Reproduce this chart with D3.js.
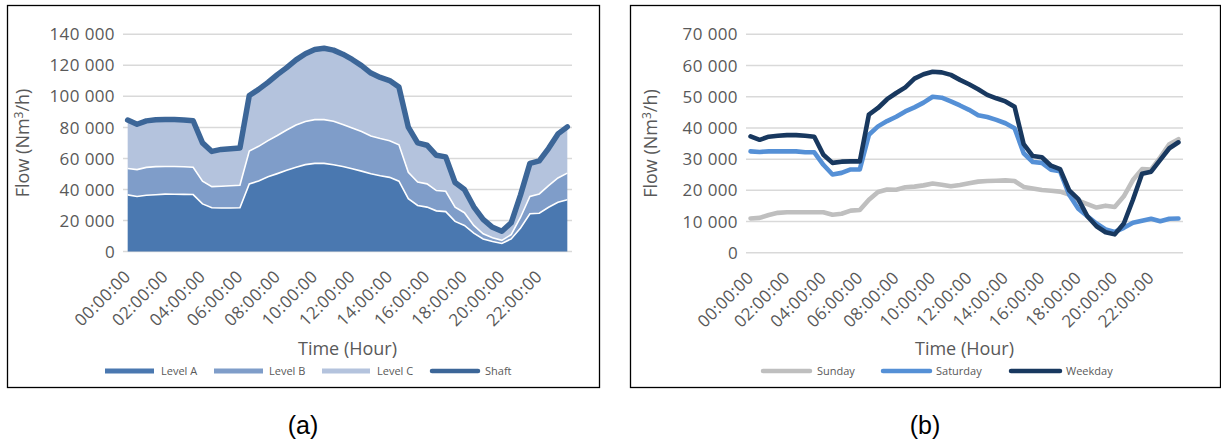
<!DOCTYPE html>
<html>
<head>
<meta charset="utf-8">
<script src="https://cdn.jsdelivr.net/npm/d3@7"></script>
<style>
  html, body { margin: 0; padding: 0; background: #ffffff; }
  svg { display: block; }
  text { font-family: "Open Sans", "Noto Sans", sans-serif; fill: #595959; }
</style>
</head>
<body>
<svg id="fig" width="1221" height="444"></svg>
<script>
// Half-hourly time slots of one day
const categories = [
  "00:00","00:30","01:00","01:30","02:00","02:30","03:00","03:30",
  "04:00","04:30","05:00","05:30","06:00","06:30","07:00","07:30",
  "08:00","08:30","09:00","09:30","10:00","10:30","11:00","11:30",
  "12:00","12:30","13:00","13:30","14:00","14:30","15:00","15:30",
  "16:00","16:30","17:00","17:30","18:00","18:30","19:00","19:30",
  "20:00","20:30","21:00","21:30","22:00","22:30","23:00","23:30"
];
const tickLabels = ["00:00:00","02:00:00","04:00:00","06:00:00","08:00:00","10:00:00",
                    "12:00:00","14:00:00","16:00:00","18:00:00","20:00:00","22:00:00"];

// (a) flow per level (Nm3/h), stacked
const levelA = [36500,35500,36300,36600,37000,36900,36800,36700,30700,28200,28000,28000,
                28200,43500,45500,48200,50200,52300,54300,56000,56800,56800,55900,54800,
                53300,51800,50100,48800,47800,45300,34000,29700,28600,26200,25700,19400,
                16800,11800,8100,6400,5200,8100,15200,24300,24700,28500,31700,33300];
const levelB = [17000,17300,17900,18100,17800,17900,17800,17600,14600,13600,14100,14400,
                14500,21300,22300,23300,24600,26000,27200,27800,28200,28200,28100,27100,
                26300,25500,24300,24000,23600,23500,17000,15100,15000,13100,13100,9200,
                8200,5000,3300,2400,2000,2800,6900,11200,12400,14000,15700,17200];
const levelC = [31200,29200,30000,30200,30300,30300,30200,30000,24700,22700,23700,23800,
                24000,35700,36700,37500,39200,40200,42000,43700,45200,46000,45800,45300,
                44200,42500,40600,39400,38800,37200,29200,25200,24900,22700,22200,15900,
                15000,12000,9300,6800,5800,7600,14400,21300,21300,24000,28400,29800];
const shaft  = [84700,82000,84200,84900,85100,85100,84800,84300,70000,64500,65800,66200,
                66700,100500,104500,109000,114000,118500,123500,127500,130200,131000,129800,127200,
                123800,119800,115000,112200,110200,106000,80200,70000,68500,62000,61000,44500,
                40000,28800,20700,15600,13000,18500,36500,56800,58400,66500,75800,80300];

// (b) total flow per day type (Nm3/h)
const sunday   = [11000,11200,12100,12800,13000,13000,13000,13000,13000,12200,12500,13500,
                  13700,17000,19500,20300,20200,21000,21200,21600,22200,21800,21300,21700,
                  22300,22800,23000,23100,23200,23000,21100,20600,20100,19900,19600,18700,
                  16700,15600,14500,15100,14700,18100,23300,26800,26700,30600,34800,36400];
const saturday = [32500,32300,32500,32500,32500,32500,32200,32200,28200,25100,25600,26700,
                  26700,37800,40500,42200,43600,45300,46600,48100,50000,49700,48500,47200,
                  45800,44100,43500,42600,41500,39900,31900,29100,28800,26600,26100,18600,
                  14100,11700,9400,7500,6700,8000,9600,10300,10900,10100,10900,11000];
const weekday  = [37300,36200,37200,37500,37700,37700,37500,37200,31400,28800,29200,29300,
                  29300,44300,46400,49200,51200,53000,55800,57200,58000,57800,57000,55400,
                  54000,52400,50600,49500,48500,46800,34800,31000,30600,27900,26800,20000,
                  17200,11700,8500,6600,5900,9400,17000,25300,26000,29800,33500,35400];

const yTicksA = [0,20000,40000,60000,80000,100000,120000,140000];
const yTicksB = [0,10000,20000,30000,40000,50000,60000,70000];

const fmt = d3.formatLocale({decimal: ",", thousands: "\u00a0", grouping: [3], currency: ["", ""]}).format(",d");

const svg = d3.select("#fig");
const GRID = "#d9d9d9";

function panel(opt) {
  const g = svg.append("g");
  // frame
  g.append("rect").attr("x", opt.box[0] + 0.5).attr("y", opt.box[1] + 0.5)
    .attr("width", opt.box[2]).attr("height", opt.box[3])
    .attr("fill", "#fff").attr("stroke", "#000").attr("stroke-width", 1.3);

  const x = d3.scalePoint().domain(categories).range(opt.xr).padding(0.5);
  const y = d3.scaleLinear().domain([0, opt.yMax]).range(opt.yr);

  // horizontal gridlines
  g.append("g").selectAll("line").data(opt.yTicks).join("line")
    .attr("x1", opt.xr[0]).attr("x2", opt.xr[1])
    .attr("y1", d => y(d)).attr("y2", d => y(d))
    .attr("stroke", GRID).attr("stroke-width", 1.5);

  // value axis labels
  g.append("g").selectAll("text").data(opt.yTicks).join("text")
    .attr("x", opt.xr[0] - 8).attr("y", d => y(d)).attr("dy", "0.36em")
    .attr("text-anchor", "end").style("font-size", "17px").style("letter-spacing", "0.4px")
    .text(d => fmt(d));

  // category labels, every two hours, slanted
  g.append("g").selectAll("text").data(tickLabels).join("text")
    .attr("transform", d => `translate(${x(d.slice(0, 5)) + 4},${opt.yr[0] + 26}) rotate(-45)`)
    .attr("text-anchor", "end").style("font-size", "17px").style("letter-spacing", "0.4px")
    .text(d => d);

  // axis titles
  const cx = (opt.xr[0] + opt.xr[1]) / 2;
  g.append("text").attr("x", cx).attr("y", 355).attr("text-anchor", "middle")
    .style("font-size", "18px").text("Time (Hour)");
  g.append("text")
    .attr("transform", `translate(${opt.box[0] + opt.yTitleDx},${(opt.yr[0] + opt.yr[1]) / 2}) rotate(-90)`)
    .attr("text-anchor", "middle").style("font-size", "18px")
    .html("Flow (Nm<tspan dy='-6' style='font-size:12px'>3</tspan><tspan dy='6'>/h)</tspan>");

  // panel caption
  g.append("text").attr("x", opt.box[0] + opt.box[2] / 2).attr("y", 434)
    .attr("text-anchor", "middle")
    .style("font-family", "'Liberation Sans', Arial, sans-serif").style("font-size", "25px")
    .style("fill", "#000").text(opt.caption);

  return {g, x, y};
}

// ---------- (a) stacked areas with shaft total ----------
const pa = panel({box: [7, 5, 592, 382], xr: [123, 572], yr: [251.5, 34.3],
                  yMax: 140000, yTicks: yTicksA, yTitleDx: 22, caption: "(a)"});

const rowsA = categories.map((c, i) => ({c, A: levelA[i], B: levelB[i], C: levelC[i]}));
const stack = d3.stack().keys(["A", "B", "C"])(rowsA);
const areaFill = {A: "#4a78b0", B: "#7f9dc9", C: "#b4c3dd"};

const area = d3.area().x(d => pa.x(d.data.c)).y0(d => pa.y(d[0])).y1(d => pa.y(d[1]));
pa.g.append("g").selectAll("path").data(stack).join("path")
  .attr("d", area).attr("fill", d => areaFill[d.key]);

// white borders along each layer top
const topLine = d3.line().x(d => pa.x(d.data.c)).y(d => pa.y(d[1]));
pa.g.append("g").selectAll("path").data(stack.slice(0, 2)).join("path")
  .attr("d", topLine).attr("fill", "none").attr("stroke", "#fff").attr("stroke-width", 1.6);

const lineA = d3.line().x((d, i) => pa.x(categories[i])).y(d => pa.y(d));
pa.g.append("path").attr("d", lineA(shaft)).attr("fill", "none")
  .attr("stroke", "#3c6698").attr("stroke-width", 5.5)
  .attr("stroke-linejoin", "round").attr("stroke-linecap", "round");

// legend (a)
const legA = [
  {name: "Level A", color: areaFill.A, kind: "rect", x0: 105, x1: 154, tx: 161},
  {name: "Level B", color: areaFill.B, kind: "rect", x0: 214, x1: 263, tx: 269},
  {name: "Level C", color: areaFill.C, kind: "rect", x0: 322, x1: 370, tx: 377},
  {name: "Shaft",   color: "#3c6698", kind: "line", x0: 430, x1: 480, tx: 485}
];
drawLegend(pa.g, legA);

// ---------- (b) day type comparison ----------
const pb = panel({box: [630, 5, 590, 382], xr: [746, 1183], yr: [252.8, 34.3],
                  yMax: 70000, yTicks: yTicksB, yTitleDx: 27, caption: "(b)"});

const seriesB = [
  {name: "Sunday",   color: "#bfbfbf", values: sunday},
  {name: "Saturday", color: "#5590d6", values: saturday},
  {name: "Weekday",  color: "#18385f", values: weekday}
];
const lineB = d3.line().x((d, i) => pb.x(categories[i])).y(d => pb.y(d));
pb.g.append("g").selectAll("path").data(seriesB).join("path")
  .attr("d", d => lineB(d.values)).attr("fill", "none")
  .attr("stroke", d => d.color).attr("stroke-width", 4.6)
  .attr("stroke-linejoin", "round").attr("stroke-linecap", "round");

drawLegend(pb.g, [
  {name: "Sunday",   color: seriesB[0].color, kind: "line", x0: 761, x1: 812, tx: 817},
  {name: "Saturday", color: seriesB[1].color, kind: "line", x0: 881, x1: 932, tx: 936},
  {name: "Weekday",  color: seriesB[2].color, kind: "line", x0: 1009, x1: 1062, tx: 1066}
]);

function drawLegend(g, items) {
  const ly = 371;
  const it = g.append("g").selectAll("g").data(items).join("g");
  it.filter(d => d.kind === "rect").append("rect")
    .attr("x", d => d.x0).attr("y", ly - 2.5).attr("width", d => d.x1 - d.x0).attr("height", 5)
    .attr("fill", d => d.color);
  it.filter(d => d.kind === "line").append("line")
    .attr("x1", d => d.x0 + 2).attr("x2", d => d.x1 - 2).attr("y1", ly).attr("y2", ly)
    .attr("stroke", d => d.color).attr("stroke-width", 4.5).attr("stroke-linecap", "round");
  it.append("text").attr("x", d => d.tx).attr("y", ly).attr("dy", "0.36em")
    .style("font-size", "11px").text(d => d.name);
}
</script>
</body>
</html>
